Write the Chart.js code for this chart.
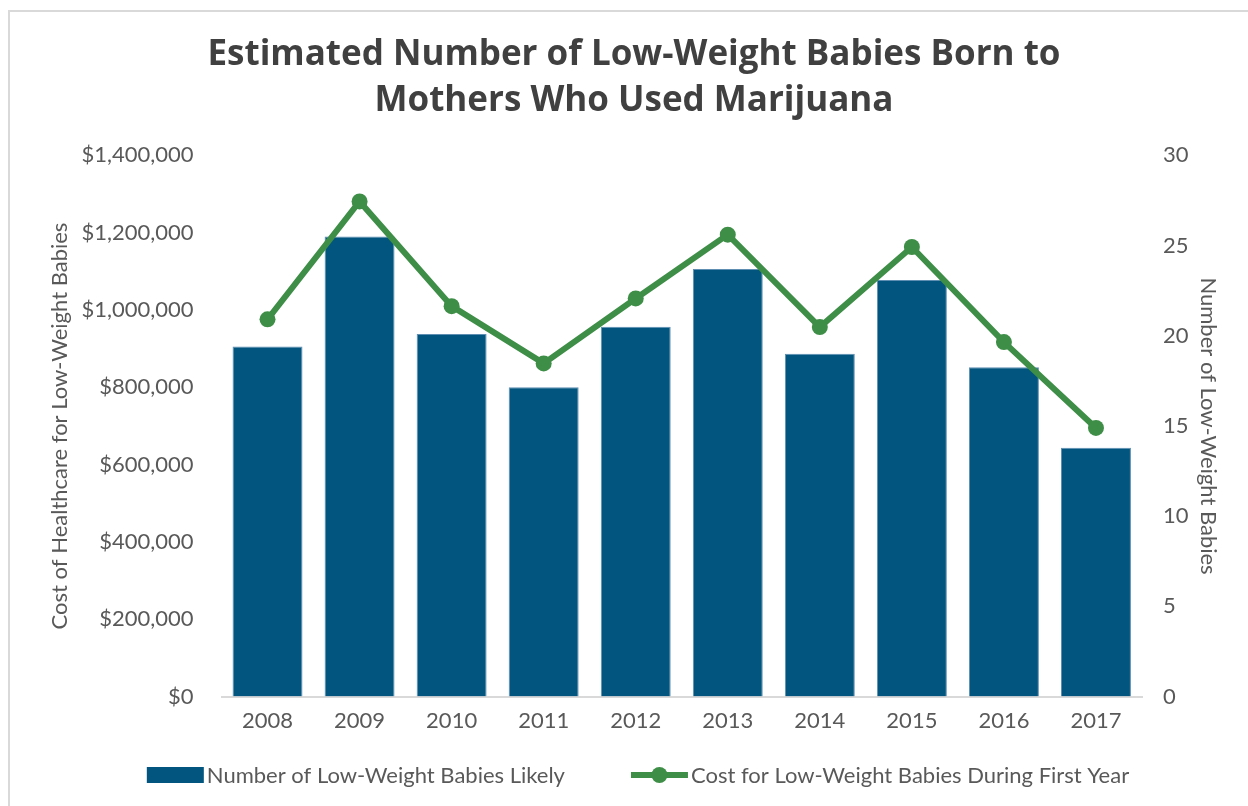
<!DOCTYPE html>
<html>
<head>
<meta charset="utf-8">
<script src="https://cdn.jsdelivr.net/npm/chart.js@4.4.1/dist/chart.umd.min.js"></script>
<style>
    body { margin: 0; background: #fff; overflow: hidden; }
    .frame { position: absolute; left: 8px; top: 10px; width: 1300px; height: 900px; border: 2px solid #d9d9d9; }
    .wrap { position: absolute; left: 0; top: 0; width: 1248px; height: 806px; }
</style>
</head>
<body>
<div class="frame"></div>
<div class="wrap"><canvas id="babiesChart" width="1248" height="806"></canvas></div>
<script>
const years = ["2008", "2009", "2010", "2011", "2012", "2013", "2014", "2015", "2016", "2017"];
const babiesLikely = [19.4, 25.5, 20.1, 17.15, 20.5, 23.7, 19.0, 23.1, 18.25, 13.8];
const costFirstYear = [976000, 1281000, 1010000, 862000, 1030000, 1195000, 956000, 1163000, 917000, 695000];

const barColor = "#02557f";
const lineColor = "#3e8e47";
const textColor = "#595959";
const fontName = "Lato";

// excel style legend under the chart, drawn by hand so the spacing matches
const bottomLegend = {
    id: "bottomLegend",
    afterDraw(chart) {
        let ctx = chart.ctx;
        let sets = chart.data.datasets;
        let markW = 57, gapText = 3, gapItems = 66, y = 775;
        ctx.save();
        ctx.font = "22px " + fontName;
        let w0 = ctx.measureText(sets[0].label).width;
        let w1 = ctx.measureText(sets[1].label).width;
        let total = markW + gapText + w0 + gapItems + markW + gapText + w1;
        let x = 638 - total / 2;

        ctx.fillStyle = barColor;
        ctx.fillRect(x, y - 8, markW, 16);
        ctx.fillStyle = textColor;
        ctx.textBaseline = "middle";
        ctx.textAlign = "left";
        ctx.fillText(sets[0].label, x + markW + gapText, y + 1);

        x = x + markW + gapText + w0 + gapItems;
        ctx.strokeStyle = lineColor;
        ctx.lineWidth = 6;
        ctx.beginPath();
        ctx.moveTo(x, y);
        ctx.lineTo(x + markW, y);
        ctx.stroke();
        ctx.fillStyle = lineColor;
        ctx.beginPath();
        ctx.arc(x + markW / 2, y, 8, 0, Math.PI * 2);
        ctx.fill();
        ctx.fillStyle = textColor;
        ctx.fillText(sets[1].label, x + markW + gapText, y + 1);
        ctx.restore();
    }
};

const ctxBabies = document.getElementById("babiesChart");
const babiesChart = new Chart(ctxBabies, {
    type: "bar",
    data: {
        labels: years,
        datasets: [
            {
                type: "bar",
                label: "Number of Low-Weight Babies Likely",
                data: babiesLikely,
                yAxisID: "y1",
                backgroundColor: barColor,
                borderColor: "#5e8fb2",
                borderWidth: 1,
                categoryPercentage: 1,
                barPercentage: 0.76,
                order: 2
            },
            {
                type: "line",
                label: "Cost for Low-Weight Babies During First Year",
                data: costFirstYear,
                yAxisID: "y",
                borderColor: lineColor,
                backgroundColor: lineColor,
                borderWidth: 6,
                pointRadius: 8,
                pointBackgroundColor: lineColor,
                pointBorderWidth: 0,
                tension: 0,
                order: 1
            }
        ]
    },
    options: {
        responsive: false,
        devicePixelRatio: 1,
        animation: false,
        layout: {
            padding: { left: 43, right: 23, top: 0, bottom: 61 }
        },
        plugins: {
            title: {
                display: true,
                text: ["Estimated Number of Low-Weight Babies Born to", "Mothers Who Used Marijuana"],
                color: "#404040",
                font: { family: "Open Sans", size: 35, weight: "bold", lineHeight: 1.32 },
                padding: { top: 32, bottom: 31 }
            },
            legend: { display: false },
            tooltip: { enabled: false }
        },
        scales: {
            x: {
                offset: true,
                grid: { display: false, drawTicks: false },
                border: { display: true, color: "#d9d9d9", width: 2 },
                ticks: { color: textColor, font: { family: fontName, size: 22 }, padding: 11 }
            },
            y: {
                position: "left",
                min: 0,
                max: 1400000,
                grid: { display: false, drawTicks: false },
                border: { display: false },
                ticks: {
                    stepSize: 200000,
                    color: textColor,
                    font: { family: fontName, size: 22 },
                    padding: 28,
                    callback: function (value) {
                        return "$" + value.toLocaleString("en-US");
                    }
                },
                title: {
                    display: true,
                    text: "Cost of Healthcare for Low-Weight Babies",
                    color: textColor,
                    font: { family: fontName, size: 22 }
                },
                afterFit: function (scale) {
                    scale.width = 178.5;
                }
            },
            y1: {
                position: "right",
                min: 0,
                max: 30,
                grid: { display: false, drawTicks: false },
                border: { display: false },
                ticks: {
                    stepSize: 5,
                    color: textColor,
                    font: { family: fontName, size: 22 },
                    padding: 21
                },
                title: {
                    display: true,
                    text: "Number of Low-Weight Babies",
                    color: textColor,
                    font: { family: fontName, size: 22 }
                },
                afterFit: function (scale) {
                    scale.width = 83;
                }
            }
        }
    },
    plugins: [bottomLegend]
});
</script>
</body>
</html>
